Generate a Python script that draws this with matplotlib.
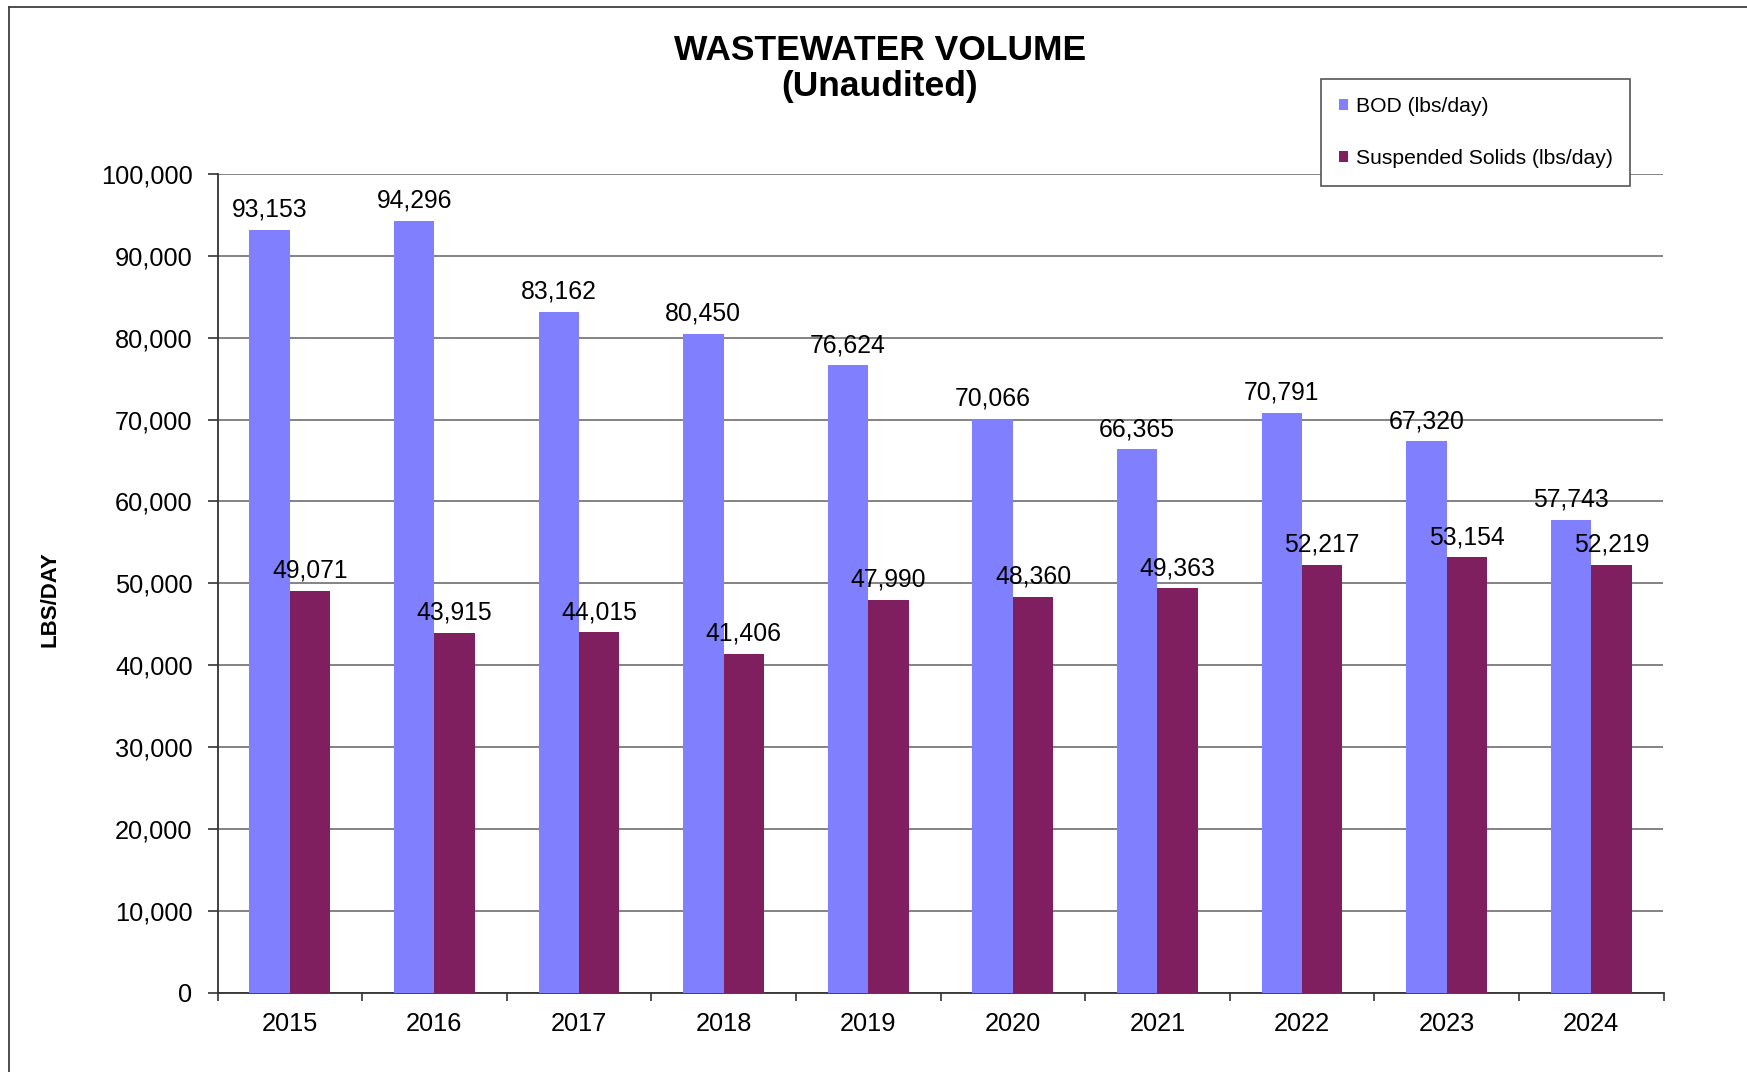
import numpy as np
import matplotlib
matplotlib.use("Agg")
import matplotlib.pyplot as plt
from matplotlib.ticker import FuncFormatter, FixedLocator
from matplotlib.lines import Line2D

plt.rcParams['font.family'] = ['Liberation Sans', 'DejaVu Sans']

# values
years = ['2015', '2016', '2017', '2018', '2019', '2020', '2021', '2022', '2023', '2024']
bod = [93153, 94296, 83162, 80450, 76624, 70066, 66365, 70791, 67320, 57743]
suspended_solids = [49071, 43915, 44015, 41406, 47990, 48360, 49363, 52217, 53154, 52219]
y_ticks = [0, 10000, 20000, 30000, 40000, 50000, 60000, 70000, 80000, 90000, 100000]

bod_color = '#8080ff'
ss_color = '#7f1f5f'

W, H = 1747, 1072
fig = plt.figure(figsize=(W / 100, H / 100), dpi=100)
ax = fig.add_axes([217.5 / W, 1 - 992.5 / H, (1663.5 - 217.5) / W, (992.5 - 174) / H])

x = np.arange(len(years))
bw = 0.28
bars1 = ax.bar(x - bw / 2, bod, width=bw, color=bod_color, label='BOD (lbs/day)', zorder=3)
bars2 = ax.bar(x + bw / 2, suspended_solids, width=bw, color=ss_color,
               label='Suspended Solids (lbs/day)', zorder=3)

# value labels above each bar
for bars in (bars1, bars2):
    for b in bars:
        ax.annotate(f'{int(b.get_height()):,}', (b.get_x() + b.get_width() / 2, b.get_height()),
                    xytext=(0, 9.5), textcoords='offset points', ha='center', va='baseline',
                    fontsize=17.8, color='black', zorder=4)

ax.set_xlim(-0.5, len(years) - 0.5)
ax.set_ylim(0, 100000)
ax.yaxis.set_major_locator(FixedLocator(y_ticks))
ax.yaxis.set_major_formatter(FuncFormatter(lambda v, p: f'{int(v):,}'))
ax.tick_params(axis='y', labelsize=18.3, length=7, width=1.2, color='#333333', pad=11)

# category labels at the centres, tick marks at the boundaries
ax.set_xticks(x)
ax.set_xticklabels(years)
ax.set_xticks(np.arange(-0.5, len(years)), minor=True)
ax.tick_params(axis='x', which='major', length=0, labelsize=18.3, pad=14)
ax.tick_params(axis='x', which='minor', length=6, width=1.2, color='#333333', direction='out')

ax.grid(axis='y', color='#7a7a7a', linewidth=1.3)
ax.set_axisbelow(True)
for s in ['top', 'right']:
    ax.spines[s].set_visible(False)
for s in ['left', 'bottom']:
    ax.spines[s].set_color('#333333')
    ax.spines[s].set_linewidth(1.3)

ax.set_ylabel('LBS/DAY', fontsize=16, fontweight='bold')
ax.yaxis.set_label_coords((60 - 217.5) / 1446, 0.48)

fig.text(880 / W, 1 - 60 / H, 'WASTEWATER VOLUME', ha='center', va='baseline',
         fontsize=25.5, fontweight='bold')
fig.text(880 / W, 1 - 96 / H, '(Unaudited)', ha='center', va='baseline',
         fontsize=25.5, fontweight='bold')

leg = ax.legend(loc='upper left', bbox_to_anchor=(1321 / W, 1 - 79.3 / H),
                bbox_transform=fig.transFigure, borderaxespad=0, fontsize=15.2,
                frameon=True, fancybox=False, framealpha=1, edgecolor='#555555',
                handlelength=0.44, handleheight=0.44, handletextpad=0.35,
                borderpad=0.85, labelspacing=1.55)
leg.get_frame().set_linewidth(1.2)
leg.set_zorder(10)

# outer chart frame (only left and top edges fall inside the image)
fig.add_artist(Line2D([8.5 / W, 8.5 / W], [0, 1 - 6.5 / H], color='#404040', linewidth=1.3))
fig.add_artist(Line2D([8.5 / W, 1], [1 - 6.5 / H, 1 - 6.5 / H], color='#404040', linewidth=1.3))

fig.savefig('out.png', dpi=100)
